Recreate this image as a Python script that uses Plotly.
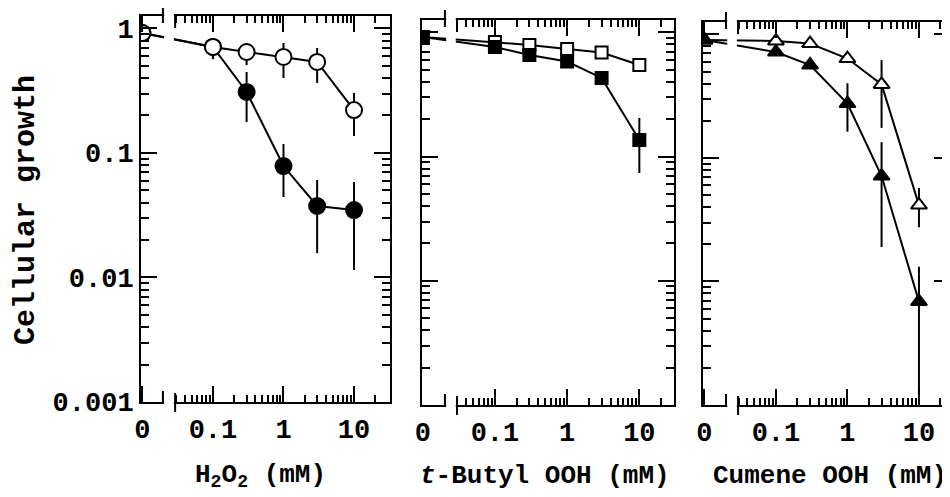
import plotly.graph_objects as go

# ---------------- data ----------------
CONC = [0, 0.1, 0.3, 1, 3, 10]          # mM; "0" is drawn at ZERO_AT on the broken log axis
ZERO_AT = 0.01
X_TICK_VALS = [0.01, 0.1, 1, 10]
X_TICK_TEXT = ["0", "0.1", "1", "10"]
X_MINOR = [0.03, 0.04, 0.05, 0.06, 0.07, 0.08, 0.09,
           0.2, 0.3, 0.4, 0.5, 0.6, 0.7, 0.8, 0.9,
           2, 3, 4, 5, 6, 7, 8, 9, 20]
Y_TICK_VALS = [1, 0.1, 0.01, 0.001]
Y_TICK_TEXT = ["1", "0.1", "0.01", "0.001"]
Y_MINOR = [m * d for d in (0.001, 0.01, 0.1) for m in range(2, 10)]

# H2O2
h2o2_open = [0.919, 0.71, 0.647, 0.590, 0.538, 0.221]
h2o2_open_hi = [0.919, 0.823, 0.764, 0.764, 0.697, 0.303]
h2o2_open_lo = [0.919, 0.568, 0.508, 0.400, 0.365, 0.137]
h2o2_fill = [0.919, 0.71, 0.309, 0.0785, 0.0375, 0.0348]
h2o2_fill_hi = [0.919, 0.823, 0.447, 0.118, 0.0607, 0.0585]
h2o2_fill_lo = [0.919, 0.568, 0.177, 0.0443, 0.0157, 0.0115]

# t-Butyl OOH
tb_open = [0.918, 0.837, 0.793, 0.736, 0.689, 0.547]
tb_open_hi = [0.918, 0.837, 0.793, 0.736, 0.689, 0.547]
tb_open_lo = [0.918, 0.837, 0.793, 0.736, 0.689, 0.547]
tb_fill = [0.918, 0.764, 0.658, 0.583, 0.430, 0.136]
tb_fill_hi = [0.918, 0.764, 0.658, 0.583, 0.430, 0.205]
tb_fill_lo = [0.918, 0.764, 0.658, 0.583, 0.430, 0.0738]

# Cumene OOH
cu_open = [0.90, 0.883, 0.843, 0.637, 0.393, 0.0415]
cu_open_hi = [0.90, 0.883, 0.843, 0.637, 0.619, 0.057]
cu_open_lo = [0.90, 0.883, 0.843, 0.637, 0.175, 0.0275]
cu_fill = [0.90, 0.719, 0.565, 0.275, 0.0713, 0.00687]
cu_fill_hi = [0.90, 0.719, 0.565, 0.402, 0.134, 0.01315]
cu_fill_lo = [0.90, 0.719, 0.565, 0.163, 0.019, 0.001]

X_TITLES = ["H<sub>2</sub>O<sub>2</sub> (mM)", "<i>t</i>-Butyl OOH (mM)", "Cumene OOH (mM)"]
Y_TITLE = "Cellular growth"

# ---------------- layout geometry ----------------
# the page body has an 8px margin, so the figure is drawn 8px smaller and
# positions below are given in window pixels, shifted by PAGE_OFF.
PAGE_OFF = 8
W, H = 950 - PAGE_OFF, 497 - PAGE_OFF
FONT = "Liberation Mono"
px_x = lambda p: (p - PAGE_OFF) / W
px_y = lambda p: (H - (p - PAGE_OFF)) / H

panels = [
    dict(x=(141, 390), y=(16, 402), xr=[-2.02, 1.51], brk=(0.088, 0.137), tc=260),
    dict(x=(422, 674), y=(20, 405), xr=[-2.01, 1.48], brk=(0.091, 0.139), tc=545),
    dict(x=(703, 950), y=(22, 405), xr=[-2.02, 1.434], brk=(0.093, 0.142), tc=830),
]

xs = [ZERO_AT if c == 0 else c for c in CONC]

def err(v, hi, lo):
    return dict(type="data", symmetric=False,
                array=[h - a for a, h in zip(v, hi)],
                arrayminus=[a - l for a, l in zip(v, lo)],
                color="black", thickness=2, width=0)

series = [
    (0, h2o2_fill, h2o2_fill_hi, h2o2_fill_lo, "circle", True, 16),
    (0, h2o2_open, h2o2_open_hi, h2o2_open_lo, "circle", False, 16),
    (1, tb_open, tb_open_hi, tb_open_lo, "square", False, 12),
    (1, tb_fill, tb_fill_hi, tb_fill_lo, "square", True, 12),
    (2, cu_open, cu_open_hi, cu_open_lo, "triangle-up", False, 14),
    (2, cu_fill, cu_fill_hi, cu_fill_lo, "triangle-up", True, 14),
]

fig = go.Figure()
for p, v, hi, lo, sym, filled, size in series:
    sfx = "" if p == 0 else str(p + 1)
    fig.add_trace(go.Scatter(
        x=xs, y=v, mode="lines+markers", xaxis="x" + sfx, yaxis="y" + sfx,
        line=dict(color="black", width=2),
        marker=dict(symbol=sym, size=size, color="black" if filled else "white",
                    line=dict(color="black", width=2)),
        error_y=err(v, hi, lo), showlegend=False, hoverinfo="skip"))

layout = dict(width=W, height=H, margin=dict(l=0, r=0, t=0, b=0),
              plot_bgcolor="white", paper_bgcolor="white", showlegend=False)
shapes, annos = [], []
for i, pn in enumerate(panels):
    sfx = "" if i == 0 else str(i + 1)
    common = dict(showline=True, linecolor="black", linewidth=2, mirror="allticks",
                  ticks="inside", tickwidth=2, tickcolor="black", ticklen=16,
                  showgrid=False, zeroline=False, automargin=False,
                  tickfont=dict(family=FONT, size=27, color="black", weight="bold"))
    layout["xaxis" + sfx] = dict(
        common, type="log", domain=[px_x(pn["x"][0]), min(1.0, px_x(pn["x"][1]))], range=pn["xr"],
        anchor="y" + sfx, tickmode="array", tickvals=X_TICK_VALS, ticktext=X_TICK_TEXT,
        ticklabelstandoff=2,
        minor=dict(tickmode="array", tickvals=X_MINOR, ticks="inside", ticklen=7,
                   tickwidth=1.5, tickcolor="black", showgrid=False))
    layout["yaxis" + sfx] = dict(
        common, type="log", domain=[px_y(pn["y"][1]), px_y(pn["y"][0])], range=[-3, 0.1],
        anchor="x" + sfx, tickmode="array", tickvals=Y_TICK_VALS, ticktext=Y_TICK_TEXT,
        showticklabels=(i == 0),
        minor=dict(tickmode="array", tickvals=Y_MINOR, ticks="inside", ticklen=8,
                   tickwidth=1.5, tickcolor="black", showgrid=False))
    xd, yd = "x" + sfx + " domain", "y" + sfx + " domain"
    b1, b2 = pn["brk"]
    hgt = pn["y"][1] - pn["y"][0]
    fr = lambda d: d / hgt
    shapes.append(dict(type="rect", xref=xd, yref=yd, x0=b1 + 0.005, x1=b2 - 0.005,
                       y0=-0.02, y1=1.02, fillcolor="white", line=dict(width=0), layer="above"))
    for xb, (y0, y1) in [(b1, (-fr(1), fr(11))), (b2, (-fr(10), fr(9))),
                         (b1, (1 - fr(7), 1 + fr(10))), (b2, (1 - fr(12), 1 + fr(2)))]:
        shapes.append(dict(type="line", xref=xd, yref=yd, x0=xb, x1=xb, y0=y0, y1=y1,
                           line=dict(color="black", width=2), layer="above"))
    annos.append(dict(text=X_TITLES[i], xref="paper", yref="paper", x=px_x(pn["tc"]),
                      y=px_y(476), xanchor="center", yanchor="middle", showarrow=False,
                      font=dict(family=FONT, size=26, color="black", weight="bold")))

annos.append(dict(text=Y_TITLE, xref="paper", yref="paper", x=px_x(26), y=px_y(210),
                  xanchor="center", yanchor="middle", textangle=-90, showarrow=False,
                  font=dict(family=FONT, size=30, color="black", weight="bold")))
layout["shapes"] = shapes
layout["annotations"] = annos
fig.update_layout(**layout)
fig.write_html("out.html")
